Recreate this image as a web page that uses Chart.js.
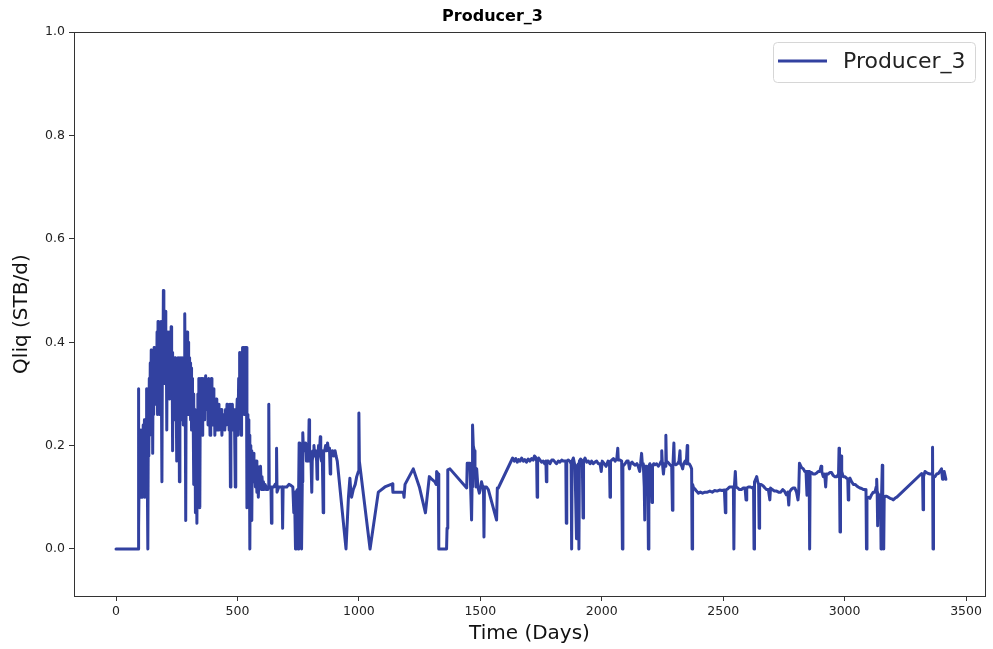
<!DOCTYPE html>
<html>
<head>
<meta charset="utf-8">
<script src="https://cdn.jsdelivr.net/npm/chart.js@4/dist/chart.umd.min.js"></script>
<style>
  html, body { margin: 0; padding: 0; background: #fff; }
  #wrap { width: 993px; height: 649px; }
</style>
</head>
<body>
<div id="wrap"><canvas id="chart" width="993" height="649"></canvas></div>
<script>
// Producer_3 liquid rate
const seriesName = 'Producer_3';

const days = [
  0, 91, 92, 94, 97, 99, 102, 104, 107, 109,
  112, 114, 117, 119, 122, 124, 126, 128, 131, 133,
  135, 137, 139, 141, 143, 145, 147, 149, 151, 153,
  155, 157, 159, 161, 163, 165, 167, 169, 171, 173,
  175, 177, 179, 181, 183, 185, 187, 189, 191, 193,
  195, 197, 199, 201, 203, 205, 207, 209, 211, 213,
  215, 217, 219, 221, 223, 225, 227, 229, 231, 233,
  235, 237, 239, 241, 243, 245, 247, 249, 251, 253,
  255, 257, 259, 261, 263, 265, 267, 269, 271, 273,
  275, 277, 279, 281, 283, 285, 287, 289, 291, 293,
  295, 297, 299, 301, 303, 305, 307, 309, 311, 313,
  315, 317, 319, 321, 323, 325, 327, 329, 331, 333,
  335, 337, 339, 341, 343, 345, 347, 349, 351, 353,
  355, 357, 359, 361, 363, 365, 367, 369, 371, 373,
  375, 377, 379, 381, 383, 385, 387, 389, 391, 393,
  395, 397, 399, 401, 403, 405, 407, 409, 411, 413,
  415, 417, 419, 421, 424, 427, 430, 433, 436, 439,
  442, 445, 448, 451, 454, 457, 460, 463, 466, 469,
  471, 473, 476, 479, 482, 485, 488, 491, 493, 496,
  499, 502, 505, 507, 509, 511, 513, 515, 517, 519,
  521, 523, 525, 527, 529, 531, 533, 535, 537, 539,
  541, 543, 545, 547, 549, 551, 553, 555, 557, 559,
  561, 563, 565, 568, 571, 574, 577, 580, 583, 586,
  589, 592, 595, 598, 601, 604, 607, 610, 614, 618,
  622, 625, 627, 629, 631, 638, 640, 642, 650, 655,
  659, 661, 663, 670, 678, 684, 686, 688, 695, 703,
  712, 720, 728, 732, 735, 739, 741, 747, 750, 752,
  754, 757, 760, 764, 767, 769, 772, 775, 778, 781,
  784, 787, 790, 793, 795, 797, 800, 803, 806, 808,
  812, 815, 818, 822, 826, 828, 830, 834, 838, 841,
  843, 846, 849, 853, 855, 859, 863, 867, 871, 875,
  879, 882, 884, 888, 892, 897, 902, 906, 911, 947,
  957, 963, 967, 970, 977, 985, 991, 998, 1000, 1002,
  1046, 1080, 1107, 1138, 1140, 1160, 1183, 1186, 1190, 1224,
  1249, 1274, 1290, 1300, 1313, 1318, 1320, 1327, 1329, 1361,
  1363, 1366, 1375, 1444, 1446, 1457, 1460, 1464, 1466, 1468,
  1471, 1475, 1478, 1482, 1485, 1490, 1496, 1500, 1505, 1510,
  1513, 1515, 1517, 1525, 1533, 1567, 1570, 1574, 1633, 1640,
  1646, 1652, 1658, 1664, 1670, 1677, 1683, 1690, 1697, 1704,
  1711, 1718, 1723, 1727, 1732, 1734, 1736, 1740, 1746, 1752,
  1759, 1765, 1770, 1772, 1774, 1780, 1787, 1794, 1801, 1808,
  1814, 1821, 1828, 1835, 1842, 1852, 1854, 1856, 1862, 1868,
  1874, 1876, 1878, 1883, 1890, 1896, 1898, 1904, 1906, 1908,
  1913, 1920, 1923, 1925, 1931, 1938, 1945, 1952, 1958, 1965,
  1972, 1979, 1986, 1993, 1998, 2002, 2010, 2018, 2026, 2032,
  2034, 2036, 2041, 2048, 2055, 2062, 2066, 2068, 2075, 2082,
  2085, 2087, 2096, 2103, 2109, 2114, 2118, 2125, 2130, 2138,
  2145, 2150, 2156, 2160, 2164, 2167, 2171, 2175, 2177, 2179,
  2184, 2190, 2192, 2194, 2198, 2203, 2207, 2209, 2214, 2219,
  2226, 2233, 2240, 2245, 2247, 2249, 2254, 2258, 2262, 2264,
  2266, 2272, 2281, 2288, 2291, 2293, 2297, 2299, 2305, 2312,
  2318, 2322, 2324, 2330, 2333, 2337, 2343, 2348, 2352, 2354,
  2360, 2366, 2370, 2372, 2374, 2378, 2384, 2390, 2398, 2406,
  2415, 2425, 2435, 2445, 2455, 2465, 2475, 2485, 2495, 2505,
  2509, 2511, 2518, 2526, 2535, 2542, 2544, 2546, 2550, 2553,
  2560, 2567, 2575, 2583, 2590, 2594, 2597, 2604, 2612, 2620,
  2625, 2627, 2629, 2634, 2638, 2642, 2646, 2648, 2650, 2656,
  2665, 2672, 2679, 2686, 2692, 2695, 2702, 2711, 2720, 2728,
  2737, 2745, 2752, 2760, 2766, 2770, 2773, 2780, 2788, 2795,
  2802, 2808, 2811, 2814, 2822, 2830, 2836, 2841, 2845, 2848,
  2854, 2856, 2858, 2864, 2871, 2878, 2885, 2891, 2898, 2903,
  2906, 2912, 2918, 2922, 2925, 2932, 2939, 2946, 2953, 2960,
  2968, 2975, 2977, 2979, 2981, 2983, 2986, 2988, 2994, 3001,
  3008, 3013, 3015, 3017, 3022, 3029, 3036, 3043, 3050, 3056,
  3063, 3070, 3077, 3084, 3088, 3090, 3092, 3098, 3104, 3111,
  3118, 3125, 3130, 3132, 3134, 3136, 3138, 3143, 3148, 3150,
  3152, 3155, 3157, 3161, 3163, 3168, 3173, 3180, 3187, 3194,
  3200, 3207, 3214, 3317, 3321, 3323, 3325, 3331, 3337, 3344,
  3352, 3360, 3362, 3364, 3366, 3372, 3379, 3386, 3392, 3399,
  3403, 3406, 3410, 3413, 3417
];

const qliq = [
  0, 0, 0.31, 0.04, 0.22, 0.10, 0.23, 0.12, 0.20, 0.10,
  0.24, 0.15, 0.25, 0.10, 0.22, 0.14, 0.31, 0.20, 0.0, 0.25,
  0.18, 0.33, 0.22, 0.36, 0.25, 0.385, 0.28, 0.37, 0.185, 0.38,
  0.26, 0.39, 0.30, 0.37, 0.28, 0.35, 0.30, 0.42, 0.26, 0.44,
  0.32, 0.40, 0.26, 0.43, 0.33, 0.44, 0.30, 0.13, 0.38, 0.33,
  0.50, 0.36, 0.42, 0.32, 0.46, 0.35, 0.40, 0.23, 0.42, 0.31,
  0.40, 0.30, 0.42, 0.29, 0.38, 0.30, 0.43, 0.33, 0.38, 0.19,
  0.37, 0.29, 0.35, 0.25, 0.37, 0.28, 0.34, 0.17, 0.36, 0.27,
  0.37, 0.26, 0.33, 0.13, 0.37, 0.28, 0.36, 0.25, 0.37, 0.30,
  0.35, 0.24, 0.37, 0.30, 0.455, 0.30, 0.055, 0.36, 0.30, 0.42,
  0.33, 0.40, 0.26, 0.37, 0.29, 0.36, 0.25, 0.35, 0.23, 0.33,
  0.26, 0.30, 0.125, 0.28, 0.20, 0.27, 0.07, 0.25, 0.18, 0.05,
  0.22, 0.30, 0.25, 0.33, 0.28, 0.08, 0.30, 0.33, 0.26, 0.33,
  0.22, 0.33, 0.28, 0.32, 0.25, 0.33, 0.29, 0.335, 0.27, 0.32,
  0.28, 0.31, 0.24, 0.33, 0.28, 0.31, 0.22, 0.32, 0.27, 0.33,
  0.29, 0.30, 0.24, 0.31, 0.25, 0.29, 0.22, 0.28, 0.24, 0.29,
  0.23, 0.27, 0.25, 0.28, 0.23, 0.26, 0.24, 0.27, 0.22, 0.26,
  0.24, 0.26, 0.23, 0.27, 0.24, 0.28, 0.25, 0.27, 0.23, 0.28,
  0.12, 0.26, 0.24, 0.28, 0.23, 0.27, 0.24, 0.12, 0.27, 0.25,
  0.29, 0.22, 0.33, 0.24, 0.38, 0.25, 0.30, 0.22, 0.38, 0.28,
  0.39, 0.30, 0.39, 0.26, 0.39, 0.30, 0.39, 0.28, 0.39, 0.08,
  0.26, 0.20, 0.25, 0.16, 0.22, 0.0, 0.20, 0.16, 0.19, 0.055,
  0.18, 0.14, 0.185, 0.13, 0.16, 0.12, 0.17, 0.11, 0.16, 0.10,
  0.15, 0.12, 0.16, 0.115, 0.14, 0.12, 0.13, 0.115, 0.125, 0.115,
  0.12, 0.115, 0.12, 0.28, 0.12, 0.12, 0.05, 0.12, 0.12, 0.125,
  0.12, 0.195, 0.11, 0.12, 0.12, 0.12, 0.04, 0.12, 0.12, 0.12,
  0.125, 0.123, 0.12, 0.07, 0.11, 0.0, 0.11, 0.115, 0.0, 0.12,
  0.205, 0.115, 0.12, 0.0, 0.13, 0.225, 0.19, 0.2, 0.19, 0.205,
  0.17, 0.19, 0.17, 0.19, 0.25, 0.17, 0.19, 0.17, 0.11, 0.17,
  0.19, 0.2, 0.18, 0.19, 0.17, 0.135, 0.17, 0.2, 0.19, 0.217,
  0.18, 0.17, 0.19, 0.07, 0.19, 0.19, 0.2, 0.19, 0.205, 0.19,
  0.195, 0.145, 0.19, 0.18, 0.19, 0.18, 0.19, 0.18, 0.17, 0.0,
  0.10, 0.137, 0.11, 0.10, 0.115, 0.125, 0.14, 0.15, 0.263, 0.17,
  0.0, 0.11, 0.12, 0.126, 0.11, 0.11, 0.11, 0.10, 0.125, 0.155,
  0.12, 0.07, 0.14, 0.135, 0.13, 0.125, 0.15, 0.145, 0.0, 0.0,
  0.04, 0.153, 0.155, 0.118, 0.166, 0.166, 0.12, 0.056, 0.12, 0.24,
  0.2, 0.19, 0.16, 0.12, 0.155, 0.12, 0.108, 0.115, 0.13, 0.12,
  0.12, 0.023, 0.12, 0.12, 0.115, 0.056, 0.118, 0.118, 0.176, 0.17,
  0.175, 0.168, 0.173, 0.17, 0.176, 0.17, 0.173, 0.168, 0.174, 0.17,
  0.175, 0.172, 0.18, 0.178, 0.17, 0.1, 0.17, 0.176, 0.172, 0.168,
  0.17, 0.165, 0.17, 0.13, 0.17, 0.17, 0.165, 0.172, 0.172, 0.168,
  0.165, 0.17, 0.168, 0.172, 0.17, 0.17, 0.05, 0.17, 0.172, 0.17,
  0.165, 0.0, 0.17, 0.176, 0.16, 0.02, 0.16, 0.165, 0.0, 0.17,
  0.174, 0.17, 0.06, 0.17, 0.176, 0.168, 0.17, 0.165, 0.17, 0.165,
  0.168, 0.17, 0.165, 0.165, 0.15, 0.17, 0.165, 0.16, 0.17, 0.165,
  0.1, 0.17, 0.172, 0.175, 0.17, 0.175, 0.195, 0.172, 0.172, 0.17,
  0.0, 0.16, 0.165, 0.17, 0.17, 0.155, 0.165, 0.168, 0.165, 0.162,
  0.165, 0.16, 0.15, 0.165, 0.185, 0.165, 0.165, 0.12, 0.056, 0.16,
  0.16, 0.12, 0.0, 0.16, 0.165, 0.16, 0.09, 0.16, 0.165, 0.163,
  0.165, 0.16, 0.165, 0.17, 0.19, 0.17, 0.145, 0.165, 0.16, 0.22,
  0.17, 0.168, 0.163, 0.16, 0.075, 0.16, 0.205, 0.165, 0.163, 0.165,
  0.17, 0.19, 0.165, 0.16, 0.155, 0.165, 0.17, 0.165, 0.2, 0.165,
  0.165, 0.16, 0.155, 0.0, 0.125, 0.118, 0.116, 0.112, 0.108, 0.11,
  0.108, 0.11, 0.11, 0.112, 0.11, 0.113, 0.112, 0.114, 0.113, 0.114,
  0.07, 0.114, 0.116, 0.12, 0.12, 0.12, 0.0, 0.12, 0.15, 0.12,
  0.118, 0.115, 0.115, 0.118, 0.118, 0.095, 0.118, 0.12, 0.12, 0.118,
  0.12, 0.0, 0.13, 0.135, 0.14, 0.13, 0.125, 0.04, 0.125, 0.125,
  0.122, 0.118, 0.115, 0.115, 0.095, 0.118, 0.115, 0.112, 0.112, 0.11,
  0.11, 0.115, 0.112, 0.105, 0.11, 0.085, 0.11, 0.115, 0.118, 0.118,
  0.11, 0.095, 0.11, 0.166, 0.158, 0.155, 0.15, 0.15, 0.104, 0.15,
  0.15, 0.0, 0.148, 0.148, 0.145, 0.145, 0.147, 0.15, 0.15, 0.16,
  0.15, 0.14, 0.145, 0.12, 0.145, 0.145, 0.148, 0.148, 0.142, 0.14,
  0.14, 0.145, 0.195, 0.145, 0.033, 0.17, 0.18, 0.15, 0.14, 0.14,
  0.137, 0.135, 0.095, 0.135, 0.137, 0.13, 0.125, 0.125, 0.122, 0.12,
  0.118, 0.117, 0.115, 0.115, 0.112, 0.0, 0.098, 0.1, 0.098, 0.105,
  0.11, 0.11, 0.12, 0.135, 0.11, 0.045, 0.105, 0.105, 0.1, 0.0,
  0.1, 0.162, 0.1, 0.0, 0.1, 0.102, 0.102, 0.1, 0.098, 0.097,
  0.095, 0.098, 0.1, 0.146, 0.145, 0.076, 0.14, 0.15, 0.148, 0.146,
  0.145, 0.145, 0.197, 0.0, 0.14, 0.14, 0.145, 0.146, 0.15, 0.155,
  0.135, 0.135, 0.15, 0.15, 0.135
];

const xTicks = [0, 500, 1000, 1500, 2000, 2500, 3000, 3500];
const yTicks = [0.0, 0.2, 0.4, 0.6, 0.8, 1.0];

if (days.length !== qliq.length) console.warn('days/qliq length mismatch', days.length, qliq.length);

const FONT = 'DejaVu Sans';
const lineColor = '#3241a0';

// box around the plot (matplotlib spines on all four sides)
const frameBox = {
    id: 'frameBox',
    afterDraw: (chart) => {
        const { ctx, chartArea: a } = chart;
        ctx.save();
        ctx.strokeStyle = '#333';
        ctx.lineWidth = 1;
        ctx.strokeRect(Math.round(a.left) + 0.5, Math.round(a.top) + 0.5,
            Math.round(a.right - a.left), Math.round(a.bottom - a.top));
        ctx.restore();
    }
};

// matplotlib-style legend in the upper right corner of the plot
const cornerLegend = {
    id: 'cornerLegend',
    afterDraw: (chart) => {
        const { ctx, chartArea: a } = chart;
        const ds = chart.data.datasets[0];
        ctx.save();
        ctx.font = '22px "' + FONT + '"';
        const tw = ctx.measureText(ds.label).width;
        const w = tw + 80;
        const left = Math.round(a.right - 10 - w);
        const top = Math.round(a.top + 10);
        ctx.fillStyle = 'rgba(255,255,255,0.8)';
        ctx.strokeStyle = '#d6d6d6';
        ctx.lineWidth = 1;
        ctx.beginPath();
        ctx.roundRect(left + 0.5, top + 0.5, Math.round(w), 40, 4);
        ctx.fill();
        ctx.stroke();
        ctx.strokeStyle = ds.borderColor;
        ctx.lineWidth = ds.borderWidth;
        ctx.beginPath();
        ctx.moveTo(left + 5, top + 19);
        ctx.lineTo(left + 54, top + 19);
        ctx.stroke();
        ctx.fillStyle = '#222';
        ctx.textBaseline = 'middle';
        ctx.textAlign = 'left';
        ctx.fillText(ds.label, left + 70, top + 20);
        ctx.restore();
    }
};

const ctx = document.getElementById('chart').getContext('2d');
new Chart(ctx, {
    type: 'line',
    data: {
        datasets: [{
            label: seriesName,
            data: days.map((d, i) => ({ x: d, y: qliq[i] })),
            borderColor: lineColor,
            backgroundColor: lineColor,
            borderWidth: 3,
            borderJoinStyle: 'round',
            borderCapStyle: 'round',
            pointRadius: 0,
            tension: 0,
            fill: false
        }]
    },
    options: {
        responsive: false,
        animation: false,
        devicePixelRatio: 1,
        layout: { padding: { left: 0, right: 8, top: 0, bottom: 0 } },
        plugins: {
            title: {
                display: true,
                text: seriesName,
                color: '#000',
                font: { family: FONT, size: 16, weight: 'bold' },
                padding: { top: 7, bottom: 6 }
            },
            legend: { display: false },
            tooltip: { enabled: false }
        },
        scales: {
            x: {
                type: 'linear',
                min: -173,
                max: 3578,
                afterBuildTicks: (axis) => { axis.ticks = xTicks.map(v => ({ value: v })); },
                afterFit: (scale) => { scale.height = 53; },
                ticks: {
                    color: '#222',
                    font: { family: FONT, size: 12.5 },
                    padding: 3,
                    maxRotation: 0,
                    autoSkip: false,
                    callback: (v) => String(v)
                },
                grid: { drawOnChartArea: false, drawTicks: true, tickLength: 5, color: '#333' },
                border: { display: true, color: '#333' },
                title: {
                    display: true,
                    text: 'Time (Days)',
                    color: '#111',
                    font: { family: FONT, size: 20 },
                    padding: { top: 2, bottom: 3 }
                }
            },
            y: {
                type: 'linear',
                min: -0.091,
                max: 1.0,
                afterBuildTicks: (axis) => { axis.ticks = yTicks.map(v => ({ value: v })); },
                afterFit: (scale) => { scale.width = 74; },
                ticks: {
                    color: '#222',
                    font: { family: FONT, size: 12.5 },
                    padding: 4,
                    callback: (v) => v.toFixed(1)
                },
                grid: { drawOnChartArea: false, drawTicks: true, tickLength: 5, color: '#333' },
                border: { display: true, color: '#333' },
                title: {
                    display: true,
                    text: 'Qliq (STB/d)',
                    color: '#111',
                    font: { family: FONT, size: 20 },
                    padding: { top: 10, bottom: 0 }
                }
            }
        }
    },
    plugins: [frameBox, cornerLegend]
});
</script>
</body>
</html>
